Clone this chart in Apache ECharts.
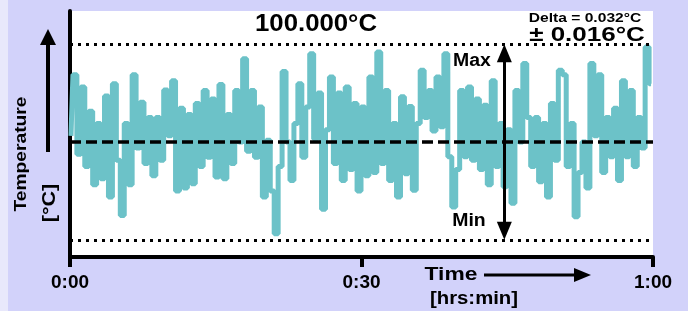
<!DOCTYPE html>
<html>
<head>
<meta charset="utf-8">
<script src="https://cdn.jsdelivr.net/npm/echarts@6/dist/echarts.min.js"></script>
<style>
html, body { margin: 0; padding: 0; background: #d2d2fa; }
#chart { width: 688px; height: 311px; }
</style>
</head>
<body>
<div id="chart"></div>
<script>
const dev00 = [1, 11, -2, 9, -4, 5, -7, 3, -6, 7.5, -9, 9.5, -3, -12, 3, -7, 11, -1, 6.5, -3.5, 4, -5.5, 4, -3, 8.5, 1];
const dev10 = [10, -8, 5.5, -7.5, 4.5, -6.8, 6.3, -4, 8.4, -2.5, 7, -5.7, 9.4, -6, 4.5, -3.5, 8.4, 0, 13.6, -1.5, 8.4, -2.5, 5.7, -9, 0.3];
const dev20 = [-8, -15, -4, 11.5, 0, -6.3, 3, 9.5, -2.5, 5.7, 14.4, 0.5, 8, -11, 2, 10.6, -3.5, 8, -6.3, 9, -4.5, 6.3, -8, 5.7, -5.5];
const dev30 = [10.6, -5, 14.7, -3.5, 8.4, -6.3, 3, -9, 7.4, -5.2, 5.8, -7.9, 3, 11.7, 4, 8.4, 1.8, 10.6, 2.5, 14.4, -2.4, -10.6, -4.5, 8.4, -2.4];
const dev40 = [9, -3, 7, -4.5, 6, -7, 10, -4, 3, -7.3, 2, -10, 8.4, 0, 12.8, 4, -4, 4, -6.5, 3, -9, 6.3, -3, 11.7];
const dev50 = [11, -4, 3, -12.2, -5, 0, -7.5, 12.8, 1, 11, -5, 4, -2.4, 5.5, -6.3, 10, -2.4, 8.4, -4, 4, -1, 15.5, 9.5];

const firstSampleMin = 0.1;
const lastSampleMin = 59.8;

const tickMinutes = [0, 30, 60];
const tickLabels = ['0:00', '0:30', '1:00'];

const setPointDev = 0;      // 100.000 °C
const bandDev = [16, -16];  // ± 0.016 °C
const arrowAtMin = 44.7;
const arrowTipDev = 14.5;   // arrow heads sit just inside the band lines

const FONT = 'Liberation Sans';
const TEAL = '#6cc2c8';

const dev = [].concat(dev00, dev10, dev20, dev30, dev40, dev50);
const step = (lastSampleMin - firstSampleMin) / (dev.length - 1);
const samples = dev.map((v, i) => [firstSampleMin + i * step, v]);

const chart = echarts.init(document.getElementById('chart'));

function txt(text, x, y, size, sx, extra) {
  return Object.assign({
    type: 'text', x: x, y: y, z: 100, scaleX: sx || 1,
    style: Object.assign({
      text: text, fill: '#000', font: 'bold ' + size + 'px "' + FONT + '"',
      textAlign: 'center', textVerticalAlign: 'middle'
    }, (extra && extra.style) || {})
  }, extra && extra.rotation ? { rotation: extra.rotation } : {});
}

chart.setOption({
  animation: false,
  backgroundColor: '#d2d2fa',
  grid: {
    left: 70, right: 35, top: 11, bottom: 54,
    show: true, backgroundColor: '#ffffff', borderWidth: 0
  },
  xAxis: {
    type: 'value', min: 0, max: 60, interval: 30,
    axisLine: { onZero: false, lineStyle: { color: '#000', width: 4 } },
    axisTick: { show: true, length: 10, lineStyle: { color: '#000', width: 4 } },
    axisLabel: {
      margin: 16, color: '#000', fontFamily: FONT, fontWeight: 'bold', fontSize: 19,
      formatter: v => tickLabels[tickMinutes.indexOf(v)] || ''
    },
    splitLine: { show: false }
  },
  yAxis: {
    type: 'value', min: -18.78, max: 21.39,
    axisLine: { show: true, onZero: false, lineStyle: { color: '#000', width: 4 } },
    axisTick: { show: false },
    axisLabel: { show: false },
    splitLine: { show: false }
  },
  series: [{
    type: 'line',
    step: 'middle',
    data: samples,
    showSymbol: false,
    lineStyle: { color: TEAL, width: 5 },
    z: 2,
    markLine: {
      silent: true,
      symbol: 'none',
      label: { show: false },
      data: [
        { yAxis: bandDev[0], lineStyle: { color: '#000', width: 3, type: [3, 5] } },
        { yAxis: bandDev[1], lineStyle: { color: '#000', width: 3, type: [3, 5] } },
        { yAxis: setPointDev, lineStyle: { color: '#000', width: 3.5, type: [11, 5] } },
        [
          { coord: [arrowAtMin, arrowTipDev], symbol: 'triangle', symbolSize: [15, 18] },
          { coord: [arrowAtMin, -arrowTipDev], symbol: 'triangle', symbolSize: [15, 18],
            lineStyle: { color: '#000', width: 3, type: 'solid' } }
        ]
      ]
    }
  }],
  graphic: [
    { type: 'rect', z: 1, shape: { x: 0, y: 0, width: 8, height: 311 }, style: { fill: '#e8e8fb' } },
    txt('100.000°C', 316, 25, 23, 1.12),
    txt('Delta = 0.032°C', 585, 18, 13, 1.2),
    txt('± 0.016°C', 587, 35, 20, 1.3),
    txt('Max', 472, 61, 18, 1.08, { style: { backgroundColor: '#fff', padding: [2, 2] } }),
    txt('Min', 469, 221, 18, 1.08, { style: { backgroundColor: '#fff', padding: [2, 2] } }),
    txt('Temperature', 21, 154, 17, 1.13, { rotation: Math.PI / 2 }),
    txt('[°C]', 50, 203, 18, 1.2, { rotation: Math.PI / 2 }),
    { type: 'line', z: 100, shape: { x1: 48, y1: 152, x2: 48, y2: 42 }, style: { stroke: '#000', lineWidth: 4 } },
    { type: 'polygon', z: 100, shape: { points: [[40, 45], [56, 45], [48, 29]] }, style: { fill: '#000' } },
    txt('Time', 451, 275, 19, 1.2),
    txt('[hrs:min]', 474, 299, 18, 1.13),
    { type: 'line', z: 100, shape: { x1: 484, y1: 275, x2: 578, y2: 275 }, style: { stroke: '#000', lineWidth: 3 } },
    { type: 'polygon', z: 100, shape: { points: [[574, 268], [574, 282], [591, 275]] }, style: { fill: '#000' } }
  ]
});
</script>
</body>
</html>
